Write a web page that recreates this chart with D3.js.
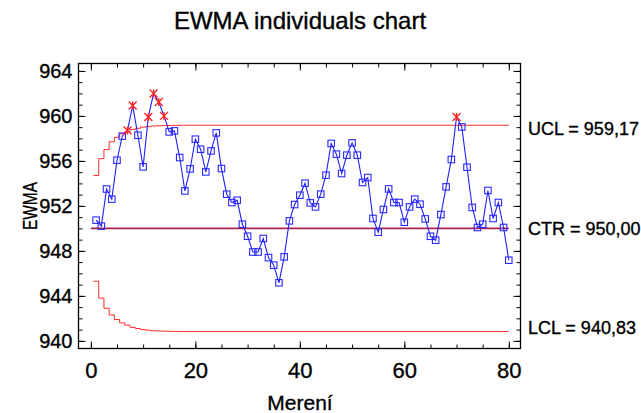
<!DOCTYPE html>
<html>
<head>
<meta charset="utf-8">
<script src="https://cdn.jsdelivr.net/npm/d3@7"></script>
<style>
  html, body { margin: 0; padding: 0; background: #fff; }
  svg text { font-family: "Liberation Sans", Arial, sans-serif; fill: #000; stroke: #000; stroke-width: 0.35px; }
</style>
</head>
<body>
<div id="chart"></div>
<script>
// EWMA values per measurement (index 1..80)
const ewma = [
  950.73, 950.20, 953.50, 952.60, 956.06, 958.20, 958.70, 960.92, 958.28, 955.47,
  959.91, 961.99, 961.24, 960.00, 958.58, 958.67, 956.30, 953.33, 955.29, 957.93,
  957.04, 955.02, 956.89, 958.49, 955.32, 953.04, 952.30, 952.50, 950.37, 949.30,
  947.90, 947.90, 949.10, 947.40, 946.73, 945.16, 947.47, 950.67, 952.12, 952.95,
  954.02, 952.27, 951.91, 953.04, 954.73, 957.55, 956.60, 954.88, 956.51, 957.60,
  956.51, 954.08, 954.52, 950.88, 949.66, 951.68, 953.51, 952.30, 952.30, 950.55,
  951.91, 952.60, 952.15, 950.84, 949.30, 948.95, 951.23, 953.69, 956.12, 959.91,
  959.02, 955.44, 951.86, 950.08, 950.37, 953.37, 950.88, 952.30, 950.08, 947.17
];

// control limits: widening steps at the start, then flat to the last point
const uclSteps = [954.7, 956.2, 957.0, 957.7, 958.1, 958.4, 958.6, 958.8, 958.9, 959.0,
                  959.05, 959.1, 959.12, 959.14, 959.15, 959.16, 959.17];
const lclSteps = [945.3, 943.8, 942.9, 942.3, 941.9, 941.6, 941.4, 941.2, 941.1, 941.0,
                  940.95, 940.9, 940.88, 940.86, 940.85, 940.84, 940.83];
const center = 950.00;

const limitLabels = ["UCL = 959,17", "CTR = 950,00", "LCL = 940,83"];
const limitValues = [959.17, 950.00, 940.83];

const xTicks = [0, 20, 40, 60, 80];
const yTicks = [940, 944, 948, 952, 956, 960, 964];

const width = 641, height = 413;
const plot = { left: 78.5, right: 520.5, top: 63.5, bottom: 348.5 };

const svg = d3.select("#chart")
  .append("svg")
  .attr("width", width)
  .attr("height", height);

const x = d3.scaleLinear().domain([-2.37, 82.24]).range([plot.left, plot.right]);
const y = d3.scaleLinear().domain([939.32, 964.66]).range([plot.bottom, plot.top]);

const n = ewma.length;

// axes: minor ticks then major ticks, all pointing inward
const xMinor = d3.range(0, 81, 5);
const yMinor = d3.range(940, 965, 1);

function axisGroup(axis, tx, ty) {
  const g = svg.append("g").attr("transform", `translate(${tx},${ty})`).call(axis);
  g.select(".domain").remove();
  g.selectAll("line").attr("stroke", "#000").attr("stroke-width", 1);
  return g;
}

axisGroup(d3.axisBottom(x).tickValues(xMinor).tickSize(-4).tickFormat(""), 0, plot.bottom);
axisGroup(d3.axisTop(x).tickValues(xMinor).tickSize(-4).tickFormat(""), 0, plot.top);
axisGroup(d3.axisLeft(y).tickValues(yMinor).tickSize(-4).tickFormat(""), plot.left, 0);
axisGroup(d3.axisRight(y).tickValues(yMinor).tickSize(-4).tickFormat(""), plot.right, 0);

const xAxis = axisGroup(d3.axisBottom(x).tickValues(xTicks).tickSize(-7).tickPadding(14), 0, plot.bottom);
xAxis.selectAll("text").style("font-size", "22px").attr("dy", "0.71em");
axisGroup(d3.axisTop(x).tickValues(xTicks).tickSize(-7).tickFormat(""), 0, plot.top);

const yAxis = axisGroup(d3.axisLeft(y).tickValues(yTicks).tickSize(-7).tickPadding(6), plot.left, 0);
yAxis.selectAll("text").style("font-size", "20px");
axisGroup(d3.axisRight(y).tickValues(yTicks).tickSize(-7).tickFormat(""), plot.right, 0);

// frame
svg.append("rect")
  .attr("x", plot.left).attr("y", plot.top)
  .attr("width", plot.right - plot.left).attr("height", plot.bottom - plot.top)
  .attr("fill", "none").attr("stroke", "#000").attr("stroke-width", 1.3);

// limit lines
function stepPoints(steps) {
  const pts = [];
  steps.forEach((v, i) => {
    pts.push([i + 0.5, v], [i + 1.5, v]);
  });
  pts.push([n, steps[steps.length - 1]]);
  return pts;
}

const line = d3.line().x(d => x(d[0])).y(d => y(d[1]));

svg.append("path")
  .attr("d", line([[0, center], [n, center]]))
  .attr("fill", "none").attr("stroke", "#a82452").attr("stroke-width", 1.6);

[uclSteps, lclSteps].forEach(steps => {
  svg.append("path")
    .attr("d", line(stepPoints(steps)))
    .attr("fill", "none").attr("stroke", "#ff2a2a").attr("stroke-width", 1);
});

// EWMA series
const points = ewma.map((v, i) => ({ i: i + 1, v: v }));
const ucl = i => i <= uclSteps.length ? uclSteps[i - 1] : uclSteps[uclSteps.length - 1];
const lcl = i => i <= lclSteps.length ? lclSteps[i - 1] : lclSteps[lclSteps.length - 1];
const outside = d => d.v > ucl(d.i) || d.v < lcl(d.i);

svg.append("path")
  .attr("d", d3.line().x(d => x(d.i)).y(d => y(d.v))(points))
  .attr("fill", "none").attr("stroke", "#1f1fff").attr("stroke-width", 1.1);

svg.selectAll(".pt")
  .data(points.filter(d => !outside(d)))
  .join("rect")
  .attr("class", "pt")
  .attr("x", d => x(d.i) - 3.25)
  .attr("y", d => y(d.v) - 3.25)
  .attr("width", 6.5).attr("height", 6.5)
  .attr("fill", "none").attr("stroke", "#2a2aff").attr("stroke-width", 1.1);

svg.selectAll(".out")
  .data(points.filter(outside))
  .join("path")
  .attr("class", "out")
  .attr("transform", d => `translate(${x(d.i)},${y(d.v)})`)
  .attr("d", "M-4,-4L4,4M-4,4L4,-4M0,-4L0,4")
  .attr("stroke", "#ff2020").attr("stroke-width", 1.3);

// limit labels on the right
const labelOffsets = [10, 7, 2];
svg.selectAll(".lim")
  .data(limitLabels)
  .join("text")
  .attr("class", "lim")
  .attr("x", 528)
  .attr("y", (d, i) => y(limitValues[i]) + labelOffsets[i])
  .style("font-size", "18px")
  .text(d => d);

// titles
svg.append("text")
  .attr("x", 300).attr("y", 29)
  .attr("text-anchor", "middle")
  .style("font-size", "24px")
  .text("EWMA individuals chart");

svg.append("text")
  .attr("x", 300).attr("y", 410)
  .attr("text-anchor", "middle")
  .style("font-size", "21px")
  .text("Merení");

svg.append("text")
  .attr("transform", "translate(37,206) rotate(-90)")
  .attr("text-anchor", "middle")
  .attr("textLength", 48)
  .attr("lengthAdjust", "spacingAndGlyphs")
  .style("font-size", "20px")
  .text("EWMA");
</script>
</body>
</html>
